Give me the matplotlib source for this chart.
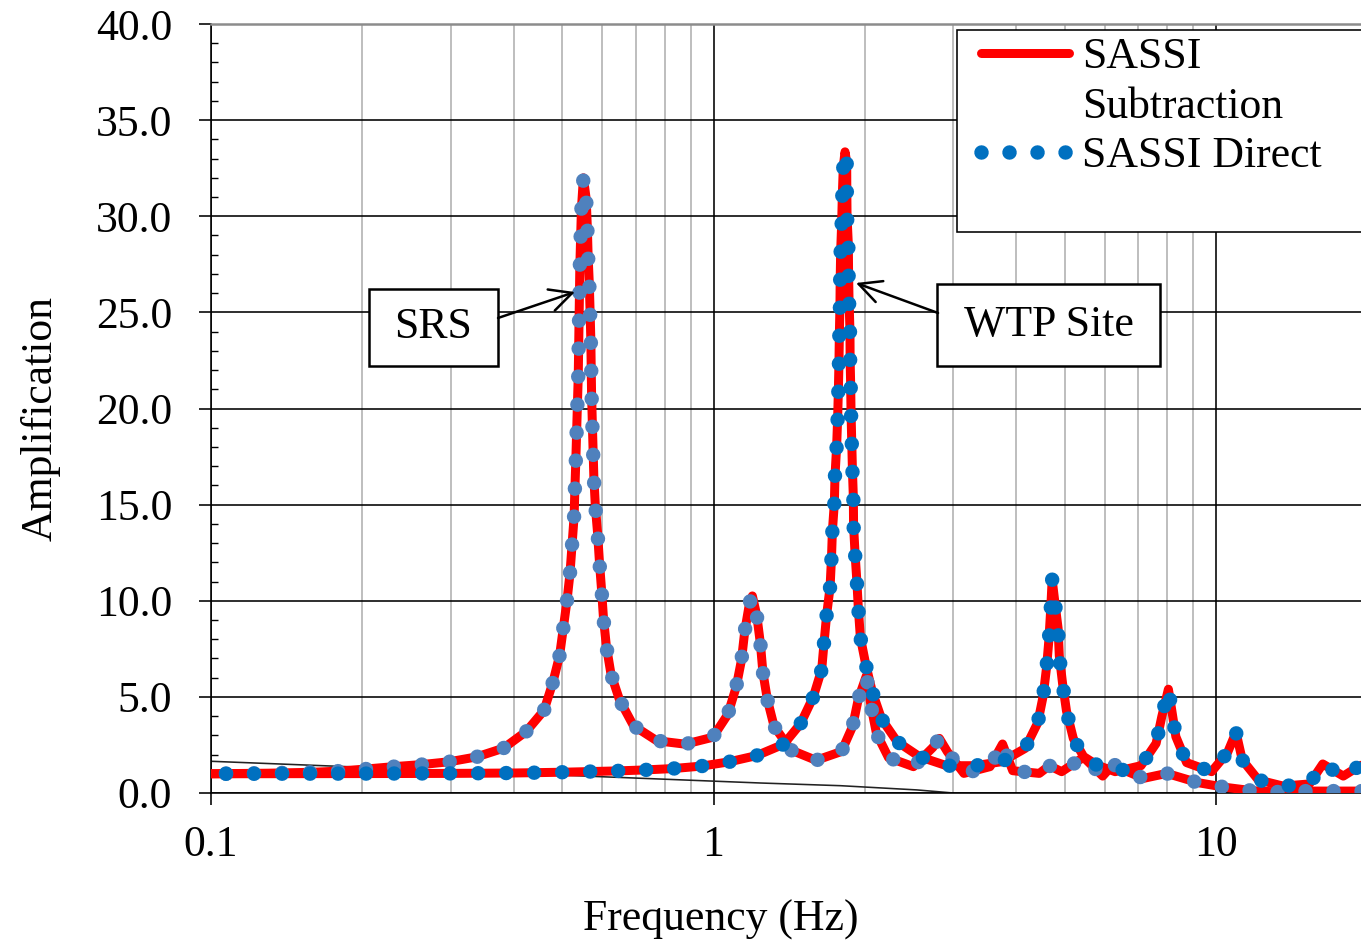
from __future__ import annotations

import matplotlib

matplotlib.use("Agg")

import matplotlib.pyplot as plt
from matplotlib.lines import Line2D
from matplotlib.patches import Rectangle
from matplotlib.ticker import (
    FixedLocator,
    FormatStrFormatter,
    LogLocator,
    MultipleLocator,
    NullFormatter,
)

# SRS site transfer function: frequency (Hz) and amplification
srs_freq = [
    0.100, 0.130, 0.160, 0.180, 0.204, 0.231, 0.263, 0.299, 0.338, 0.382,
    0.424, 0.460, 0.479, 0.494, 0.502, 0.511, 0.518, 0.523, 0.528, 0.530,
    0.532, 0.534, 0.536, 0.538, 0.539, 0.540, 0.541, 0.542, 0.544, 0.546,
    0.551, 0.558, 0.561, 0.563, 0.566, 0.568, 0.570, 0.571, 0.572, 0.574,
    0.576, 0.578, 0.582, 0.588, 0.593, 0.599, 0.604, 0.612, 0.625, 0.650,
    0.693, 0.771, 0.878, 0.997, 1.068, 1.110, 1.137, 1.154, 1.180, 1.195,
    1.220, 1.240, 1.254, 1.280, 1.320, 1.427, 1.600, 1.798, 1.892, 1.942,
    2.015, 2.058, 2.110, 2.230, 2.500, 2.730, 2.815, 2.920, 3.150, 3.550,
    3.760, 3.940, 4.450, 4.660, 4.930, 5.450, 5.950, 6.250, 6.440, 7.170,
    7.980, 9.200, 10.40, 11.80, 13.30, 15.20, 19.50,
]
srs_amp = [
    1.00, 1.03, 1.08, 1.14, 1.25, 1.37, 1.48, 1.63, 1.88, 2.33,
    3.20, 4.30, 5.75, 7.15, 8.50, 10.0, 11.4, 12.9, 14.4, 15.9,
    17.2, 18.7, 20.2, 21.6, 23.0, 24.5, 25.9, 27.4, 28.9, 30.4,
    32.0, 30.9, 29.4, 27.9, 26.5, 25.1, 23.6, 22.1, 20.7, 19.2,
    17.8, 16.4, 14.9, 13.5, 12.0, 10.5, 9.10, 7.65, 6.20, 4.85,
    3.50, 2.72, 2.54, 2.90, 4.09, 5.53, 6.93, 8.42, 9.90, 10.25,
    9.20, 7.75, 6.28, 4.86, 3.47, 2.23, 1.70, 2.16, 3.47, 4.90,
    6.10, 4.53, 3.10, 1.84, 1.37, 2.36, 2.84, 2.15, 1.02, 1.37,
    2.55, 1.16, 1.02, 1.42, 1.11, 1.86, 0.88, 1.50, 1.28, 0.76,
    1.02, 0.54, 0.30, 0.12, 0.05, 0.10, 0.10,
]

# WTP site transfer function
wtp_freq = [
    0.100, 0.200, 0.300, 0.400, 0.500, 0.645, 0.730, 0.830, 0.947, 1.074,
    1.220, 1.380, 1.490, 1.580, 1.642, 1.660, 1.680, 1.706, 1.717, 1.724,
    1.740, 1.745, 1.758, 1.766, 1.772, 1.777, 1.780, 1.785, 1.787, 1.791,
    1.799, 1.805, 1.813, 1.827, 1.841, 1.842, 1.844, 1.855, 1.857, 1.861,
    1.869, 1.870, 1.875, 1.878, 1.884, 1.890, 1.898, 1.900, 1.913, 1.928,
    1.942, 1.960, 2.010, 2.070, 2.160, 2.320, 2.570, 2.910, 3.310, 3.750,
    4.170, 4.420, 4.530, 4.600, 4.650, 4.690, 4.720, 4.780, 4.850, 4.877,
    4.950, 5.040, 5.200, 5.450, 5.800, 6.300, 7.090, 7.600, 7.800, 8.040,
    8.160, 8.320, 8.740, 9.800, 10.55, 10.96, 11.28, 12.14, 13.60, 15.34,
    16.31, 17.92, 19.20, 19.50,
]
wtp_amp = [
    1.00, 1.01, 1.02, 1.04, 1.08, 1.15, 1.20, 1.27, 1.40, 1.62,
    1.95, 2.54, 3.60, 5.00, 6.43, 7.85, 9.30, 10.7, 12.2, 13.6,
    15.1, 16.5, 18.0, 19.45, 20.9, 22.4, 23.8, 25.3, 26.7, 28.2,
    29.6, 31.2, 32.6, 33.35, 32.8, 31.4, 30.0, 28.5, 27.0, 25.6,
    24.0, 22.6, 21.2, 19.8, 18.3, 16.8, 15.4, 13.9, 12.45, 11.1,
    9.60, 8.10, 6.66, 5.27, 3.85, 2.67, 1.89, 1.42, 1.42, 1.63,
    2.32, 3.66, 5.05, 6.52, 7.96, 9.60, 11.1, 9.90, 8.57, 7.14,
    5.71, 4.27, 2.84, 1.90, 1.45, 1.11, 1.42, 2.58, 3.97, 5.40,
    4.35, 2.93, 1.58, 1.11, 2.12, 3.16, 1.72, 0.68, 0.36, 0.47,
    1.51, 0.88, 1.37, 1.45,
]

# thin reference line running down to the axis
guide_freq = [0.10, 1.24, 1.79, 2.54, 3.00]
guide_amp = [1.65, 0.52, 0.38, 0.16, 0.00]

x_ticks = [0.1, 1, 10]
x_tick_labels = ["0.1", "1", "10"]
legend_labels = ["SASSI", "Subtraction", "SASSI Direct"]

RED = "#FF0000"
SRS_BLUE = "#4F81BD"
WTP_BLUE = "#0070C0"
FONT_SIZE = 31.5
DPI = 100


def px(value: float) -> float:
    """Pixels to points at the figure dpi."""
    return value * 72 / DPI


RED_LW = px(9)
DOT_PX = 14.5
DOT_PITCH = 28.0
DOT_LW = px(DOT_PX)
DOT_GAP = DOT_PITCH / DOT_PX
# first dot sits about 15 px along each curve
DOT_STYLE = ((DOT_PITCH - 15) / DOT_PX, (0.001, DOT_GAP))
LEGEND_DOT_STYLE = (0, (0.001, DOT_GAP))


def draw_pair(ax, freq, amp, dot_color):
    ax.plot(freq, amp, color=RED, lw=RED_LW, solid_capstyle="round",
            solid_joinstyle="round", zorder=3)
    ax.plot(freq, amp, color=dot_color, lw=DOT_LW, linestyle=DOT_STYLE,
            dash_capstyle="round", zorder=4)


def label_box(ax, x0, y0, w, h, text, xy, start):
    ax.add_patch(Rectangle((x0, y0), w, h, transform=ax.transAxes,
                           fc="white", ec="black", lw=px(2.5), zorder=6))
    ax.text(x0 + w / 2, y0 + h / 2, text, transform=ax.transAxes,
            ha="center", va="center", fontsize=FONT_SIZE, zorder=7)
    ax.annotate("", xy=xy, xycoords="data", xytext=start,
                textcoords="axes fraction",
                arrowprops=dict(arrowstyle="->", lw=px(2.5), color="black",
                                mutation_scale=40, shrinkA=0, shrinkB=0),
                zorder=7)


def main() -> None:
    plt.rcParams["font.family"] = ["Liberation Serif", "DejaVu Serif"]
    plt.rcParams["font.size"] = FONT_SIZE

    fig = plt.figure(figsize=(13.61, 9.42), dpi=DPI)
    ax = fig.add_axes([211 / 1361, 149 / 942, 1150 / 1361, 769 / 942])
    ax.set_xscale("log")
    ax.set_xlim(0.1, 10 ** (1150 / 502.5 - 1))
    ax.set_ylim(0, 40)

    ax.plot(guide_freq, guide_amp, color="#222222", lw=px(1.6), zorder=2)
    draw_pair(ax, srs_freq, srs_amp, SRS_BLUE)
    draw_pair(ax, wtp_freq, wtp_amp, WTP_BLUE)

    ax.xaxis.set_major_locator(FixedLocator(x_ticks))
    ax.set_xticklabels(x_tick_labels)
    ax.xaxis.set_minor_locator(LogLocator(base=10, subs=range(2, 10)))
    ax.xaxis.set_minor_formatter(NullFormatter())
    ax.yaxis.set_major_locator(MultipleLocator(5))
    ax.yaxis.set_major_formatter(FormatStrFormatter("%.1f"))
    ax.yaxis.set_minor_locator(MultipleLocator(1))

    ax.tick_params(axis="x", which="major", direction="out", length=px(12),
                   width=px(1.6), pad=px(20), labelsize=FONT_SIZE)
    ax.tick_params(axis="x", which="minor", length=0)
    ax.tick_params(axis="y", which="major", direction="out", length=px(12),
                   width=px(1.6), pad=px(27), labelsize=FONT_SIZE)
    ax.tick_params(axis="y", which="minor", direction="in", length=px(7),
                   width=px(1.4))

    ax.set_axisbelow(True)
    ax.grid(which="major", axis="both", color="black", lw=px(1.6))
    ax.grid(which="minor", axis="x", color="#BFBFBF", lw=px(2))

    ax.spines["right"].set_visible(False)
    ax.spines["top"].set_color("#8C8C8C")
    ax.spines["top"].set_linewidth(px(2.5))
    ax.spines["left"].set_linewidth(px(1.6))
    ax.spines["bottom"].set_linewidth(px(1.6))

    ax.set_xlabel("Frequency (Hz)", fontsize=FONT_SIZE, va="center")
    ax.xaxis.set_label_coords(0.4435, -0.1655)
    ax.set_ylabel("Amplification", fontsize=FONT_SIZE, va="center")
    ax.yaxis.set_label_coords(-0.1478, 0.4876)

    label_box(ax, 0.1374, 0.5553, 0.1122, 0.1001, "SRS",
              xy=(0.530, 26.06), start=(0.2496, 0.6177))
    label_box(ax, 0.6313, 0.5553, 0.1939, 0.1066, "WTP Site",
              xy=(1.921, 26.53), start=(0.6322, 0.6242))

    # legend frame runs off the right edge of the figure
    ax.add_patch(Rectangle((0.6487, 0.7295), 0.45, 0.2627,
                           transform=ax.transAxes, fc="white", ec="black",
                           lw=px(1.6), clip_on=False, zorder=4.9))
    handles = [
        Line2D([], [], color=RED, lw=RED_LW, solid_capstyle="round"),
        Line2D([], [], color="none"),
        Line2D([], [], color=WTP_BLUE, lw=DOT_LW, linestyle=LEGEND_DOT_STYLE,
               dash_capstyle="round"),
    ]
    ax.legend(handles, legend_labels, loc="upper left",
              bbox_to_anchor=(0.6696, 0.983), frameon=False, borderpad=0,
              borderaxespad=0, handlelength=2.0, handletextpad=0.3,
              labelspacing=0.22, fontsize=FONT_SIZE)

    fig.savefig("out.png", dpi=DPI)
    plt.close(fig)


if __name__ == "__main__":
    main()
